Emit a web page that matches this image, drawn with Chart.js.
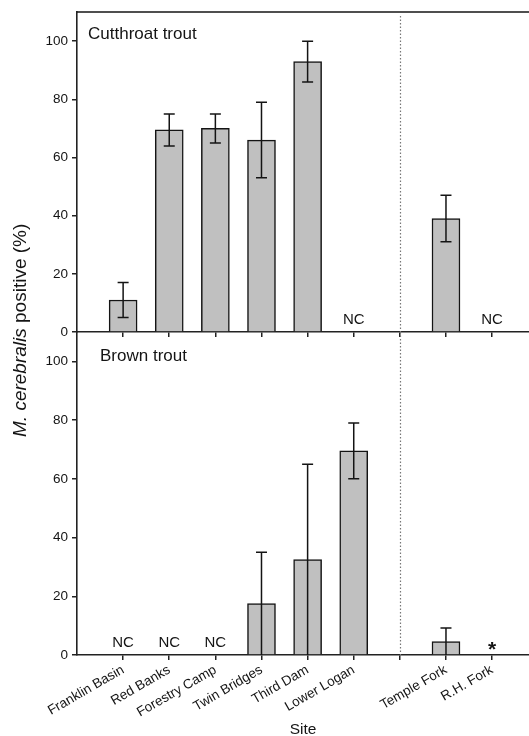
<!DOCTYPE html>
<html>
<head>
<meta charset="utf-8">
<script src="https://cdn.jsdelivr.net/npm/chart.js@4"></script>
<style>
  body { margin: 0; background: #fff; }
  #wrap { position: relative; width: 529px; height: 736px; overflow: hidden; }
  canvas { position: absolute; left: 0; top: 0; }
</style>
</head>
<body>
<div id="wrap">
  <canvas id="topChart" width="529" height="736"></canvas>
  <canvas id="bottomChart" width="529" height="736"></canvas>
</div>
<script>
// sites along the x axis; group 1 = tributaries, drawn after the dotted divider
var sites = ["Franklin Basin", "Red Banks", "Forestry Camp", "Twin Bridges", "Third Dam", "Lower Logan", "Temple Fork", "R.H. Fork"];
var siteGroup = [0, 0, 0, 0, 0, 0, 1, 1];

// % of fish positive for M. cerebralis, with error (null = not collected)
var cutthroatPct = [11, 69.5, 70, 66, 93, null, 39, null];
var cutthroatErr = [6, 5.5, 5, 13, 7, null, 8, null];
var cutthroatNotes = ["", "", "", "", "", "NC", "", "NC"];

var brownPct = [null, null, null, 17.5, 32.5, 69.5, 4.6, null];
var brownErr = [null, null, null, 17.5, 32.5, 9.5, 4.6, null];
var brownNotes = ["NC", "NC", "NC", "", "", "", "", "*"];

var yTicks = [0, 20, 40, 60, 80, 100];

Chart.defaults.font.family = "'Liberation Sans', Arial, sans-serif";
Chart.defaults.color = "#141414";

var sitePos = sites.map(function (s, i) { return i + 1 + siteGroup[i]; });
var dividerPos = sitePos[siteGroup.indexOf(1)] - 1;
var tickPos = sitePos.concat([dividerPos]).sort(function (a, b) { return a - b; });

function labelFor(v) {
  var i = sitePos.indexOf(v);
  return i < 0 ? "" : sites[i];
}

function makePanel(id, title, pct, err, notes, isBottom) {
  var areaTop = isBottom ? 332 : 11;
  var areaBottom = isBottom ? 655 : 332;

  var points = [];
  pct.forEach(function (v, i) {
    if (v !== null) points.push({ x: sitePos[i], y: v });
  });

  var overlay = {
    id: "overlay_" + id,
    afterDatasetsDraw: function (chart) {
      var c = chart.ctx, xs = chart.scales.x, ys = chart.scales.y, a = chart.chartArea;
      c.save();
      // dotted divider between main stem and tributaries
      c.strokeStyle = "#777";
      c.lineWidth = 1.2;
      c.setLineDash([1.5, 2]);
      var dx = Math.round(xs.getPixelForValue(dividerPos)) + 0.5;
      c.beginPath();
      c.moveTo(dx, isBottom ? a.top : a.top + 4);
      c.lineTo(dx, a.bottom);
      c.stroke();
      c.setLineDash([]);

      // error bars
      c.strokeStyle = "#141414";
      c.lineWidth = 1.5;
      pct.forEach(function (v, i) {
        if (v === null || err[i] === null) return;
        var x = xs.getPixelForValue(sitePos[i]);
        var hi = ys.getPixelForValue(v + err[i]);
        var loV = Math.max(v - err[i], 0);
        var lo = ys.getPixelForValue(loV);
        c.beginPath();
        c.moveTo(x, hi); c.lineTo(x, lo);
        c.moveTo(x - 5.5, hi); c.lineTo(x + 5.5, hi);
        if (loV > 0) { c.moveTo(x - 5.5, lo); c.lineTo(x + 5.5, lo); }
        c.stroke();
      });

      // NC / * notes
      c.fillStyle = "#141414";
      c.textAlign = "center";
      c.textBaseline = "alphabetic";
      notes.forEach(function (n, i) {
        if (!n) return;
        var x = xs.getPixelForValue(sitePos[i]);
        var y0 = ys.getPixelForValue(0);
        if (n === "*") {
          c.font = "bold 21px 'Liberation Sans', Arial, sans-serif";
          c.fillText(n, x, y0 + 1);
        } else {
          c.font = "15px 'Liberation Sans', Arial, sans-serif";
          c.fillText(n, x, y0 - 8);
        }
      });

      // panel label
      c.font = "17px 'Liberation Sans', Arial, sans-serif";
      c.textAlign = "left";
      c.fillText(title, isBottom ? 100 : 88, isBottom ? 361 : 39);

      if (!isBottom) {
        // top frame line
        c.strokeStyle = "#141414";
        c.lineWidth = 1.5;
        c.beginPath();
        c.moveTo(a.left, a.top);
        c.lineTo(a.right, a.top);
        c.stroke();
      } else {
        // y axis title spanning both panels
        c.translate(26, 437);
        c.rotate(-Math.PI / 2);
        c.textAlign = "left";
        c.font = "italic 19px 'Liberation Sans', Arial, sans-serif";
        c.fillText("M. cerebralis", 0, 0);
        var w = c.measureText("M. cerebralis").width;
        c.font = "19px 'Liberation Sans', Arial, sans-serif";
        c.fillText(" positive (%)", w, 0);
      }
      c.restore();
    }
  };

  return new Chart(document.getElementById(id).getContext("2d"), {
    type: "bar",
    data: {
      datasets: [{
        data: points,
        backgroundColor: "#c0c0c0",
        borderColor: "#141414",
        borderWidth: 1.5,
        barThickness: 28
      }]
    },
    options: {
      responsive: false,
      animation: false,
      layout: { padding: { top: areaTop, bottom: isBottom ? 0 : 736 - areaBottom, left: 0, right: 0 } },
      plugins: { legend: { display: false }, tooltip: { enabled: false } },
      scales: {
        x: {
          type: "linear",
          min: 0,
          max: 9.8,
          offset: false,
          grid: { offset: false, drawOnChartArea: false, drawTicks: true, tickLength: 5, color: "#222", lineWidth: 1.5 },
          border: { display: true, color: "#222", width: 1.6 },
          afterBuildTicks: function (s) { s.ticks = tickPos.map(function (v) { return { value: v }; }); },
          afterFit: function (s) { s.height = isBottom ? 736 - areaBottom : 0; },
          ticks: {
            display: isBottom,
            minRotation: 30,
            maxRotation: 30,
            padding: 2,
            font: { size: 13.5 },
            callback: function (v) { return labelFor(v); }
          },
          title: { display: isBottom, text: "Site", font: { size: 15.5 }, padding: { top: 0, bottom: -3 } }
        },
        y: {
          min: 0,
          max: 110,
          grid: { drawOnChartArea: false, drawTicks: true, tickLength: 5, color: "#222", lineWidth: 1.5 },
          border: { display: true, color: "#222", width: 1.6 },
          afterBuildTicks: function (s) { s.ticks = yTicks.map(function (v) { return { value: v }; }); },
          afterFit: function (s) { s.width = 77; },
          ticks: { padding: 4, font: { size: 13.5 } }
        }
      }
    },
    plugins: [overlay]
  });
}

makePanel("topChart", "Cutthroat trout", cutthroatPct, cutthroatErr, cutthroatNotes, false);
makePanel("bottomChart", "Brown trout", brownPct, brownErr, brownNotes, true);
</script>
</body>
</html>
